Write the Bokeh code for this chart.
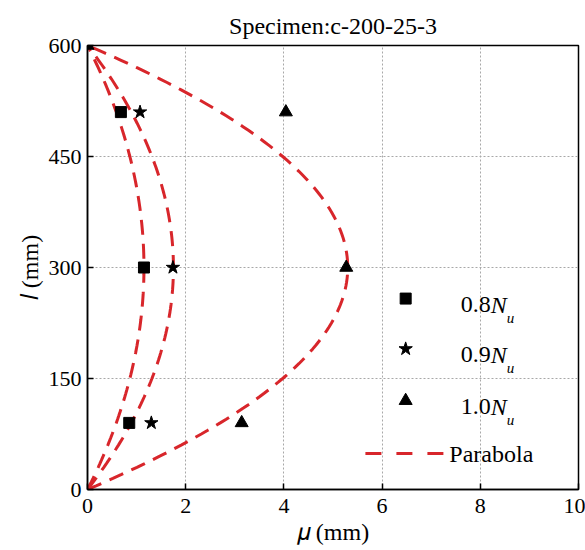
import numpy as np
from bokeh.plotting import figure
from bokeh.models import Label, FixedTicker
from bokeh.embed import file_html
from bokeh.resources import INLINE

# Measured lateral deflection mu (mm) at positions l (mm) along the column
l_pos = [510, 300, 90]
mu_08 = [0.68, 1.15, 0.85]
mu_09 = [1.07, 1.74, 1.30]
mu_10 = [4.04, 5.27, 3.14]
# end point of the 1.0Nu series at the column top
l_end = [600]
mu_end = [0.0]

# Peak deflection (mm) of each fitted parabola at mid-height
parabola_peaks = [1.15, 1.75, 5.30]
col_length = 600

x_ticks = [0, 2, 4, 6, 8, 10]
y_ticks = [0, 150, 300, 450, 600]

SERIF = "Liberation Serif"
RED = "#d8262b"

p = figure(width=585, height=550, x_range=(0, 10), y_range=(0, 600),
           output_backend="svg", toolbar_location=None,
           min_border_left=87, min_border_right=7,
           min_border_top=45, min_border_bottom=61)

p.title.text = "Specimen:c-200-25-3"
p.title.text_font = SERIF
p.title.text_font_size = "24px"
p.title.text_font_style = "normal"
p.title.text_color = "black"
p.title.align = "center"
p.title.standoff = 14

# fitted parabolas: mu(l) = peak * 4 l (L - l) / L^2
l_curve = np.linspace(0, col_length, 121)
for peak in parabola_peaks:
    mu_curve = peak * 4 * l_curve * (col_length - l_curve) / col_length ** 2
    p.line(mu_curve, l_curve, line_color=RED, line_width=3, line_dash="15 9")

# test points
p.scatter(mu_08, l_pos, marker="square", size=11, color="black")
p.scatter(mu_09, l_pos, marker="star", size=14, color="black")
p.scatter(mu_10, l_pos, marker="triangle", size=13, color="black")
p.scatter(mu_end, l_end, marker="triangle", size=13, color="black")

# axes
for ax in (p.xaxis, p.yaxis):
    ax.major_tick_in = 6
    ax.major_tick_out = 0
    ax.minor_tick_line_color = None
    ax.axis_line_color = "black"
    ax.axis_line_width = 1.5
    ax.major_tick_line_color = "black"
    ax.major_tick_line_width = 1.5
    ax.major_label_text_font = SERIF
    ax.major_label_text_font_size = "22px"
    ax.major_label_text_color = "black"
    ax.axis_label_text_font = SERIF
    ax.axis_label_text_font_size = "24px"
    ax.axis_label_text_font_style = "normal"
    ax.axis_label_text_color = "black"
p.xaxis.ticker = FixedTicker(ticks=x_ticks)
p.yaxis.ticker = FixedTicker(ticks=y_ticks)
p.xaxis.major_label_standoff = 9
p.yaxis.major_label_standoff = 6
p.xaxis.axis_label = "\U0001D707 (mm)"
p.yaxis.axis_label = "\U0001D459 (mm)"
p.xaxis.axis_label_standoff = 3
p.yaxis.axis_label_standoff = 3

p.outline_line_color = "black"
p.outline_line_width = 1.5
p.grid.grid_line_color = "#a8a8a8"
p.grid.grid_line_dash = "2 2"
p.grid.grid_line_width = 1
p.background_fill_color = "white"
p.border_fill_color = "white"

lab = dict(text_font=SERIF, text_font_size="24px", text_color="black",
           text_baseline="middle")

# legend
leg_x = 6.48
p.scatter([leg_x], [258], marker="square", size=11, color="black")
p.scatter([leg_x], [190], marker="star", size=14, color="black")
p.scatter([leg_x], [120], marker="triangle", size=13, color="black")
p.line([5.66, 7.25], [48.6, 48.6], line_color=RED, line_width=3, line_dash="16 15")

for ypos, num in [(250, "0.8"), (182, "0.9"), (112, "1.0")]:
    p.add_layout(Label(x=7.6, y=ypos, text=num, text_align="left", **lab))
    p.add_layout(Label(x=7.6, y=ypos, x_offset=30, text="N", text_align="left",
                       text_font_style="italic", **lab))
    p.add_layout(Label(x=7.6, y=ypos, x_offset=46, y_offset=-13, text="u",
                       text_align="left", text_font_style="italic",
                       text_font=SERIF, text_font_size="15px", text_color="black",
                       text_baseline="middle"))
p.add_layout(Label(x=7.37, y=48.6, text="Parabola", text_align="left", **lab))

open("out.html", "w").write(file_html(p, INLINE))
